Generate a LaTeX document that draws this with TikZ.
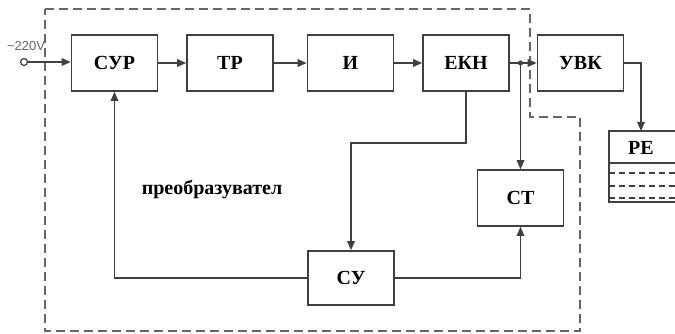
\documentclass[tikz,border=0pt]{standalone}
\usepackage{fontspec}
\setmainfont{Liberation Serif}
\newfontfamily\lsans{Liberation Sans}
\usetikzlibrary{arrows.meta}
\definecolor{ln}{HTML}{404040}
\definecolor{dl}{HTML}{666666}
\tikzset{
  blk/.style={draw=ln, line width=1.6pt, minimum width=86pt, minimum height=56pt, inner sep=0pt,
     font=\fontsize{20}{22}\selectfont\bfseries},
  conn/.style={draw=ln, line width=1.5pt, -{Triangle[length=9pt,width=7.5pt]}},
  plain/.style={draw=ln, line width=1.5pt},
  bnd/.style={draw=dl, line width=1.6pt, dash pattern=on 9pt off 5pt},
  inner/.style={draw=ln, line width=1.2pt, dash pattern=on 6pt off 4pt}
}
\begin{document}
\begin{tikzpicture}[x=1pt,y=-1pt]
\useasboundingbox (0,0) rectangle (675,334);
\clip (0,0) rectangle (675,334);
% boundary
\draw[bnd] (45,9) -- (530,9) -- (530,117) -- (580,117) -- (580,331) -- (45,331) -- cycle;
% blocks
\node[blk] (sur) at (114.5,63) {СУР};
\node[blk] (tr) at (230,63) {ТР};
\node[blk] (i) at (350.5,63) {И};
\node[blk] (ekn) at (466,63) {ЕКН};
\node[blk] (uvk) at (580.5,63) {УВК};
\node[blk, minimum height=56pt] (st) at (520.5,198) {СТ};
\node[blk, minimum height=54pt] (su) at (351,278) {СУ};
% PE
\draw[plain, line width=1.6pt] (685,131) -- (609,131) -- (609,202) -- (685,202);
\draw[plain, line width=1.3pt] (609,163) -- (685,163);
\draw[inner] (609,173) -- (685,173);
\draw[inner] (609,186) -- (685,186);
\draw[inner] (609,198) -- (685,198);
\node[font=\fontsize{20}{22}\selectfont\bfseries] (pe) at (641,148) {РЕ};
\coordinate (petop) at (641,131);
% input
\node[draw=ln, line width=1.2pt, circle, minimum size=7pt, inner sep=0pt, fill=white] (in) at (24,62) {};
\node[font=\lsans\fontsize{13}{15}\selectfont, text=dl] (v) at (26,46) {\textasciitilde 220V};
\draw[conn] (in) -- (sur.west |- in);
% chain
\draw[conn] (sur) -- (tr);
\draw[conn] (tr) -- (i);
\draw[conn] (i) -- (ekn);
\coordinate (j) at (520.5,63);
\draw[conn] (ekn) -- (uvk);
\fill[ln] (j) circle (2.6pt);
\draw[conn] (j) -- (st.north);
\draw[conn] (uvk.east) -- (petop |- uvk.east) -- (petop);
% feedback
\coordinate (k) at (466,143);
\draw[conn] (ekn.south) -- (k) -- (k -| su.north) -- (su.north);
\draw[conn] (su.east) -- (st.south |- su.east) -- (st.south);
\draw[conn] (su.west) -- (sur.south |- su.west) -- (sur.south);
% label
\node[font=\fontsize{20}{22}\selectfont\bfseries] (lbl) at (212,189) {преобразувател};
\end{tikzpicture}
\end{document}
